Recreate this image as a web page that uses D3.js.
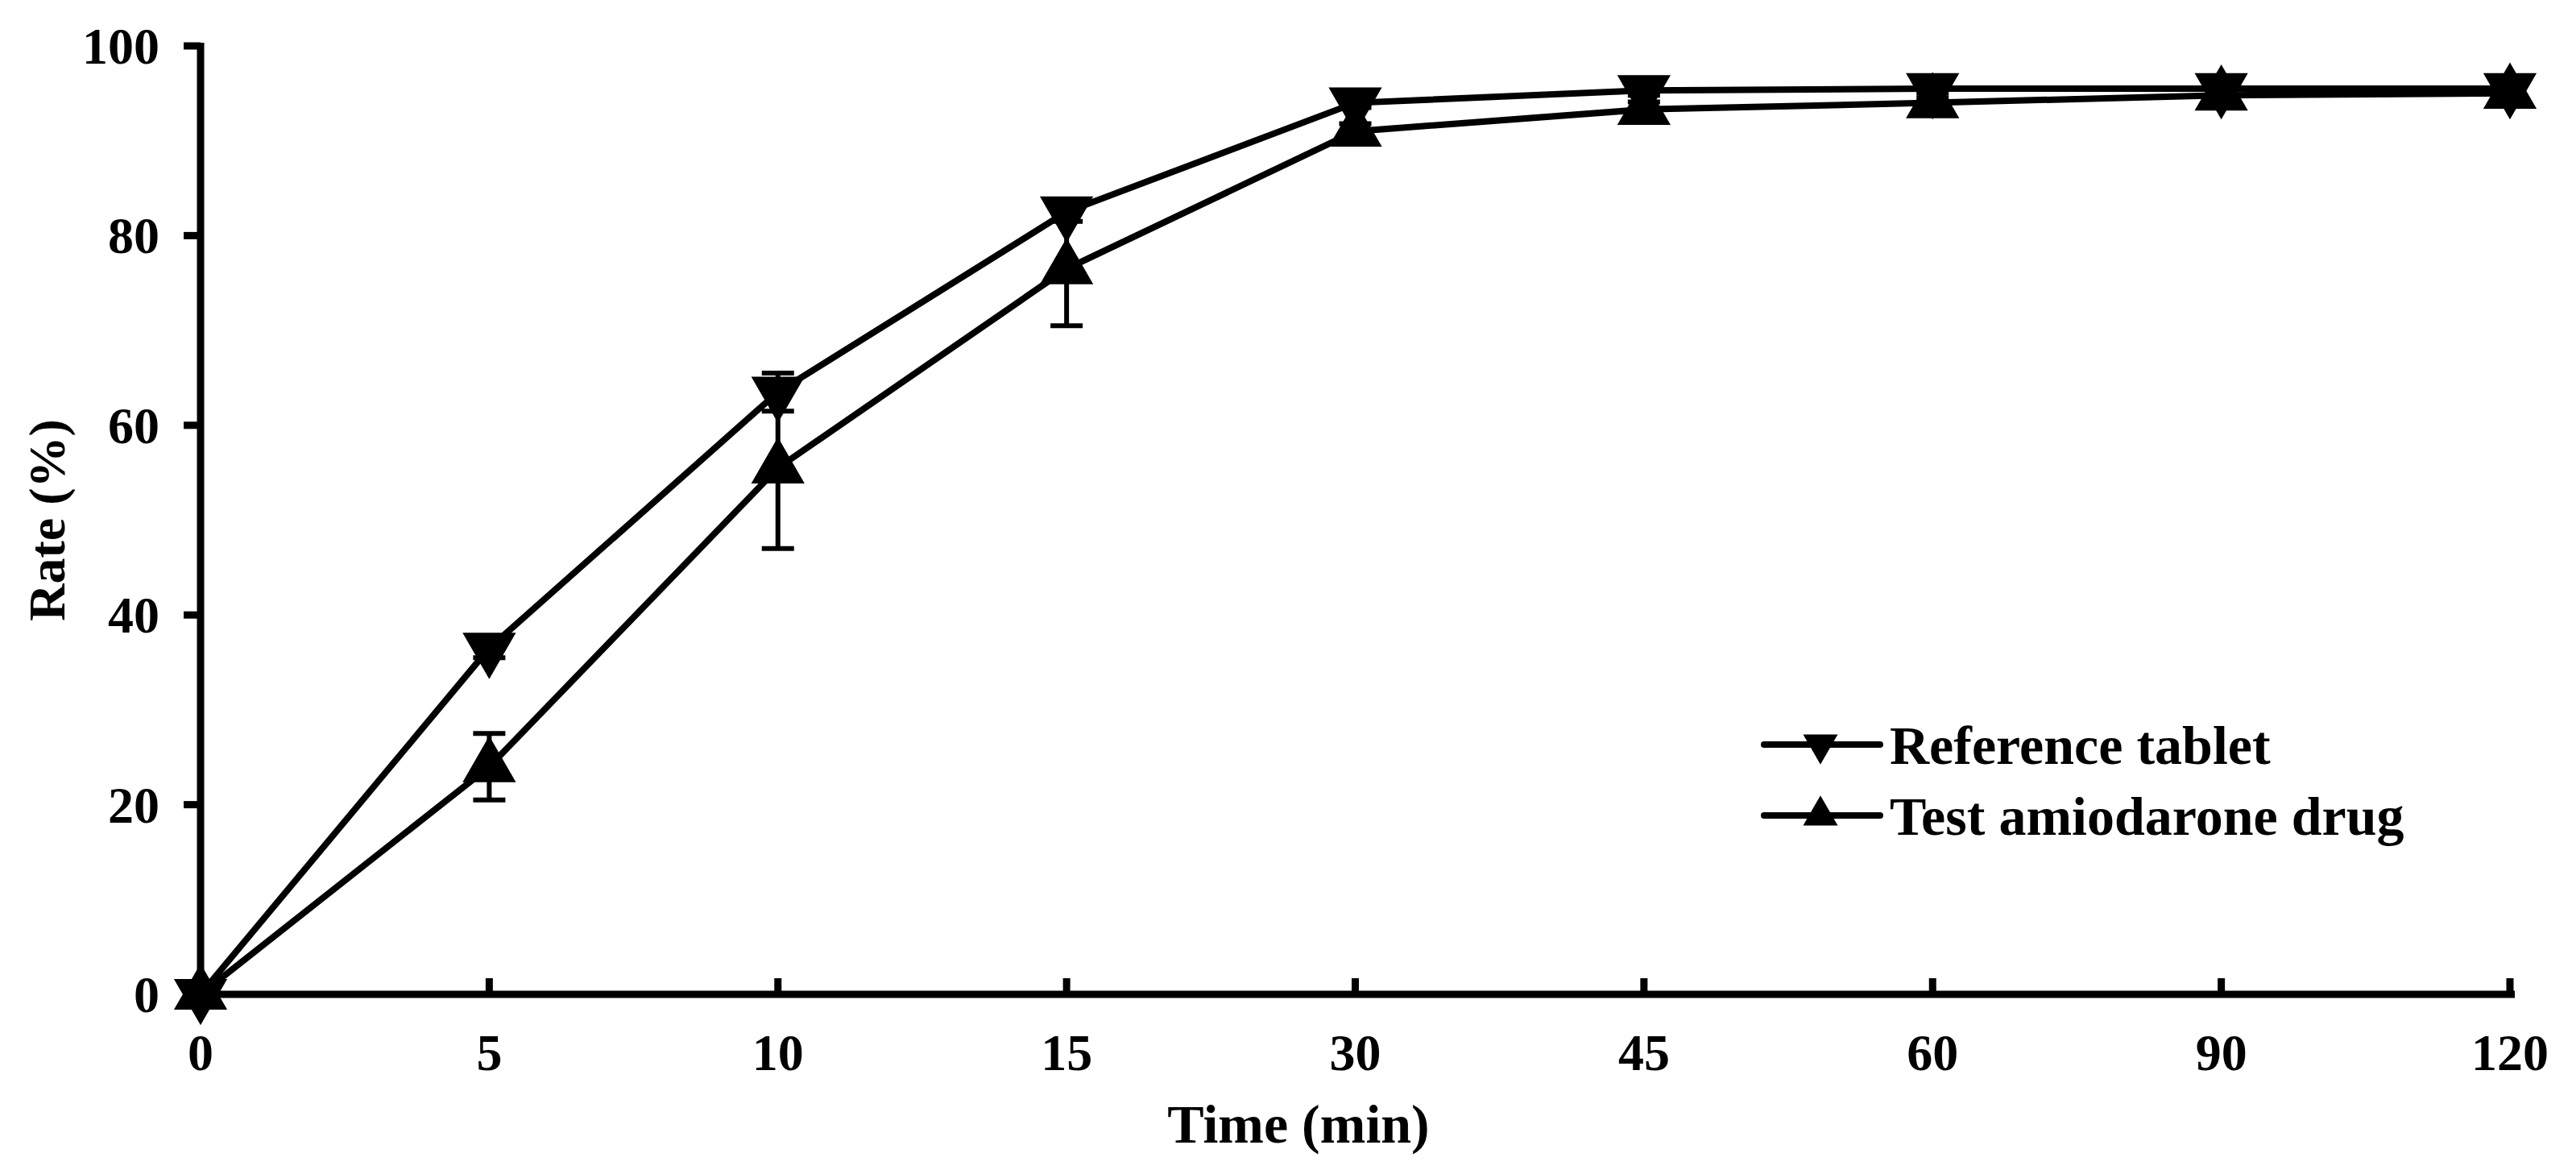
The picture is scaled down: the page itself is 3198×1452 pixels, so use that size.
<!DOCTYPE html>
<html><head><meta charset="utf-8">
<script src="https://cdn.jsdelivr.net/npm/d3@7"></script>
<style>body{margin:0;background:#fff}text{font-family:"Liberation Serif","Times New Roman",serif;font-weight:bold}</style>
</head><body><svg id="chart" width="3198" height="1452"></svg>
<script>
let times = ["0", "5", "10", "15", "30", "45", "60", "90", "120"];
let referenceRate = [0, 36.5, 63.5, 82.5, 94, 95.3, 95.5, 95.5, 95.5];
let referenceErr = [0, 1, 2, 1, 0.5, 0.5, 0.5, 0.5, 0.5];
let testRate = [0, 24, 55.5, 76.5, 91, 93.3, 94, 94.8, 95];
let testErr = [0, 3.5, 8.5, 6, 0.8, 0.8, 0.5, 0.5, 0.5];
let yTicks = [0, 20, 40, 60, 80, 100];

let svg = d3.select("#chart");
let x = d3.scalePoint().domain(times).range([249, 3116]);
let y = d3.scaleLinear().domain([0, 100]).range([1234, 57]);

// axes
svg.append("line").attr("x1", 249).attr("x2", 3122).attr("y1", y(0)).attr("y2", y(0))
    .style("stroke", "#000").style("stroke-width", 9);
svg.append("line").attr("x1", 249).attr("x2", 249).attr("y1", y(0) + 4).attr("y2", y(100) - 4)
    .style("stroke", "#000").style("stroke-width", 9);

svg.append("g").selectAll("line").data(yTicks).enter().append("line")
    .attr("x1", 228).attr("x2", 249)
    .attr("y1", d => y(d)).attr("y2", d => y(d))
    .style("stroke", "#000").style("stroke-width", 9);
svg.append("g").selectAll("text").data(yTicks).enter().append("text")
    .attr("x", 198).attr("y", d => y(d) + 22)
    .attr("text-anchor", "end").style("font-size", "64px")
    .text(d => d);

svg.append("g").selectAll("line").data(times.slice(1)).enter().append("line")
    .attr("x1", d => x(d)).attr("x2", d => x(d))
    .attr("y1", y(0)).attr("y2", y(0) - 20)
    .style("stroke", "#000").style("stroke-width", 9);
svg.append("g").selectAll("text").data(times).enter().append("text")
    .attr("x", d => x(d)).attr("y", 1328)
    .attr("text-anchor", "middle").style("font-size", "64px")
    .text(d => d);

svg.append("text").attr("x", 1612).attr("y", 1418).attr("text-anchor", "middle")
    .style("font-size", "68px").text("Time (min)");
svg.append("text").attr("transform", "translate(80," + y(50) + ") rotate(-90)")
    .attr("text-anchor", "middle").style("font-size", "64px").text("Rate (%)");

let line = d3.line().x((d, i) => x(times[i])).y(d => y(d));
let tri = d3.symbol().type(d3.symbolTriangle).size(1900);

function drawSeries(values, errs, rot) {
    let g = svg.append("g");
    g.append("path").datum(values).attr("d", line)
        .style("fill", "none").style("stroke", "#000").style("stroke-width", 8);
    g.selectAll(".err").data(values).enter().append("path")
        .attr("d", (d, i) => {
            let cx = x(times[i]), a = y(d + errs[i]), b = y(d - errs[i]);
            return "M" + cx + "," + a + "V" + b + "M" + (cx - 20) + "," + a + "H" + (cx + 20) +
                   "M" + (cx - 20) + "," + b + "H" + (cx + 20);
        })
        .style("stroke", "#000").style("stroke-width", 6).style("fill", "none");
    g.selectAll(".mk").data(values).enter().append("path")
        .attr("d", tri)
        .attr("transform", (d, i) => "translate(" + x(times[i]) + "," + y(d) + ") rotate(" + rot + ")")
        .style("fill", "#000");
}
drawSeries(referenceRate, referenceErr, 180);
drawSeries(testRate, testErr, 0);

// legend
let legendItems = [{name: "Reference tablet", rot: 180}, {name: "Test amiodarone drug", rot: 0}];
let lg = svg.append("g").selectAll("g").data(legendItems).enter().append("g")
    .attr("transform", (d, i) => "translate(0," + (924 + i * 88) + ")");
lg.append("line").attr("x1", 2190).attr("x2", 2334)
    .style("stroke", "#000").style("stroke-width", 8).style("stroke-linecap", "round");
lg.append("path").attr("d", d3.symbol().type(d3.symbolTriangle).size(800))
    .attr("transform", d => "translate(2260,0) rotate(" + d.rot + ")").style("fill", "#000");
lg.append("text").attr("x", 2346).attr("y", 24).style("font-size", "68px").text(d => d.name);
</script>
</body></html>
